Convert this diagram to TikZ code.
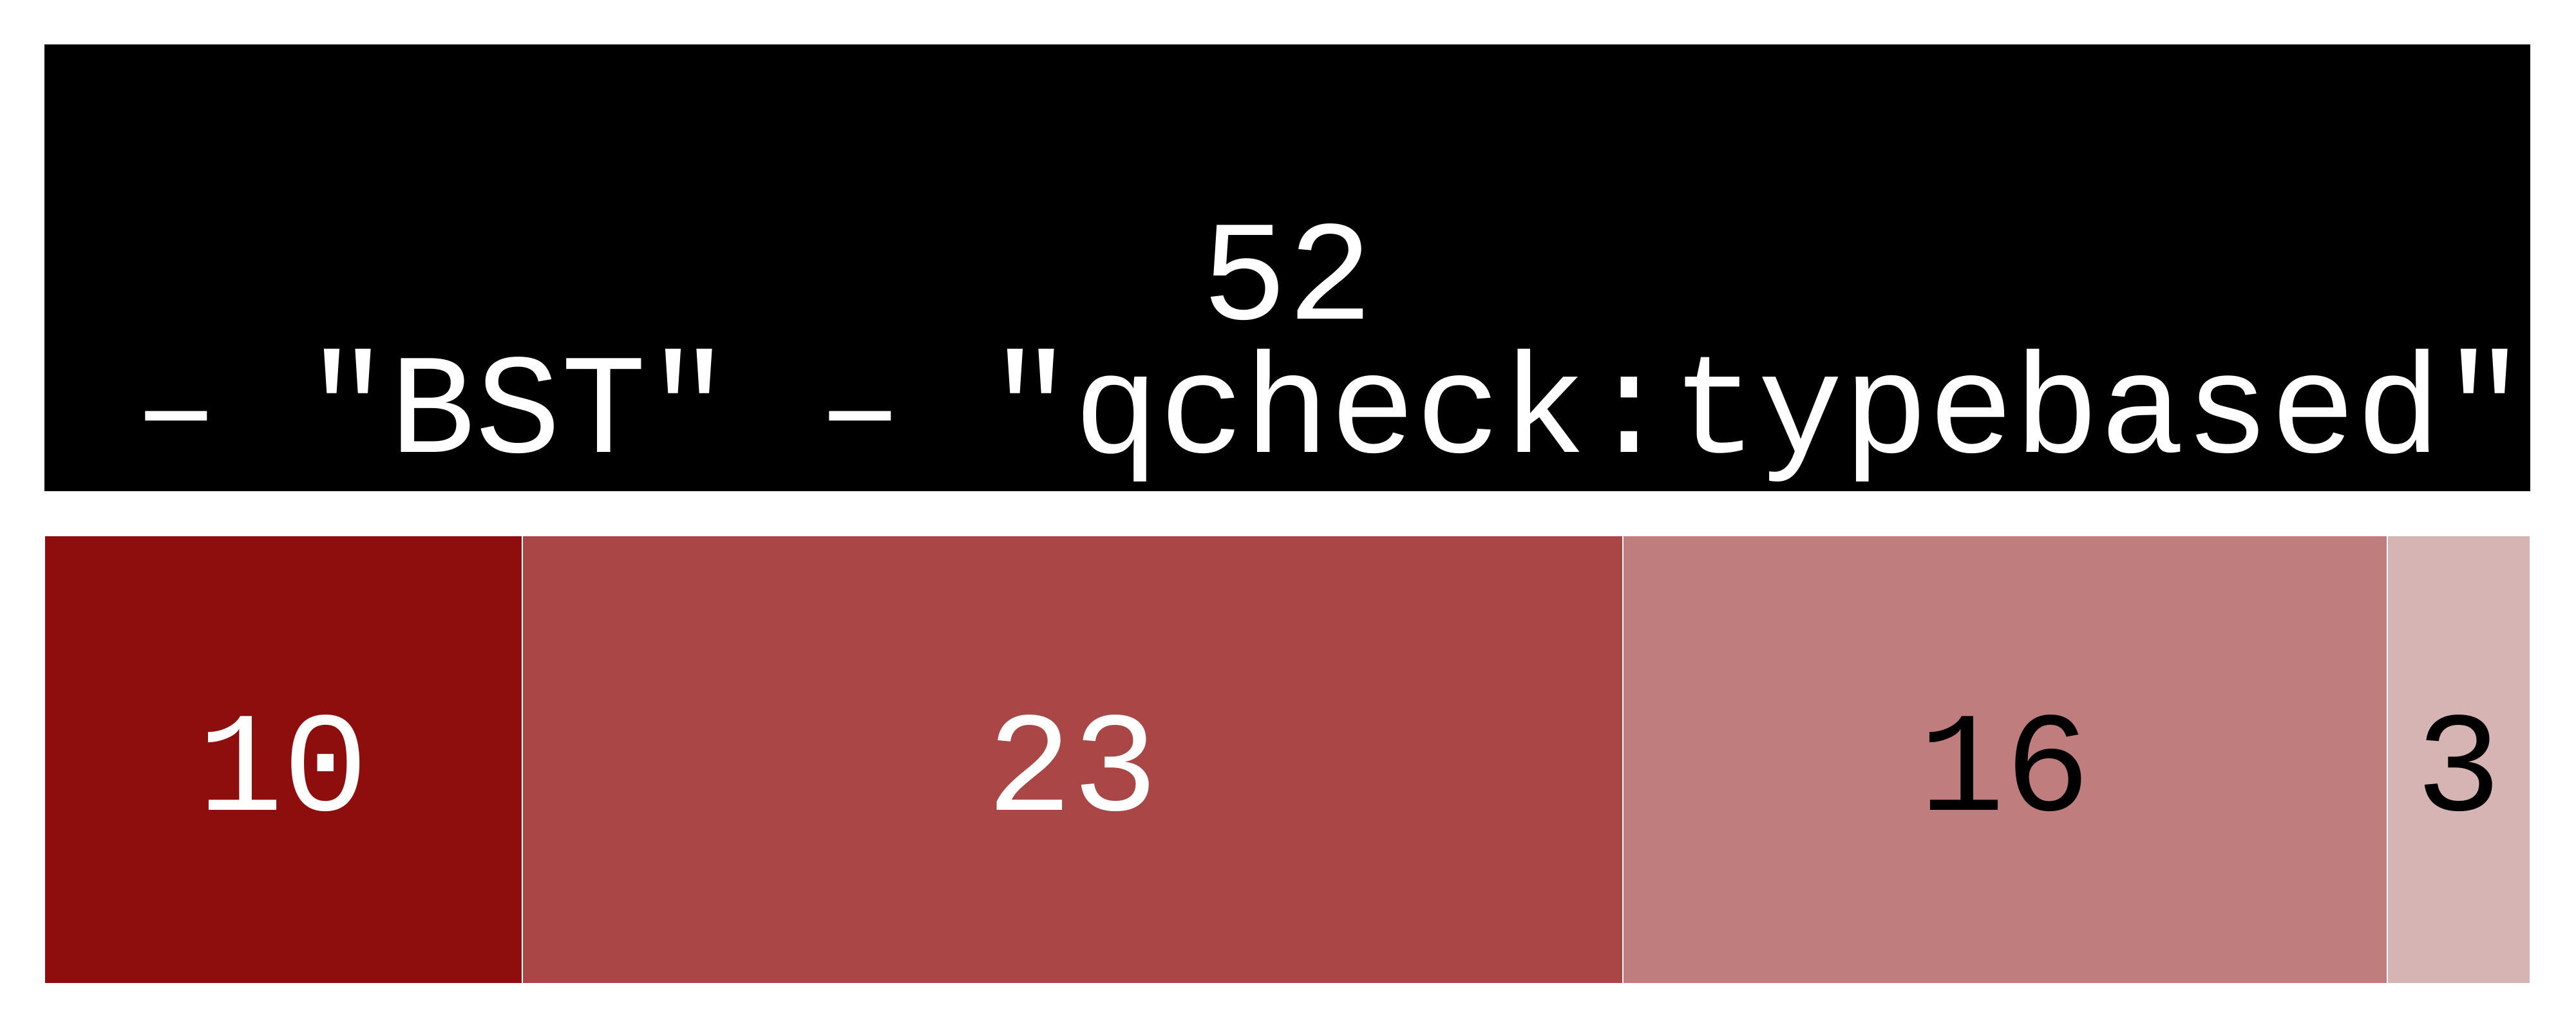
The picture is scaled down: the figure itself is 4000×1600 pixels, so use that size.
\documentclass[tikz,border=0pt]{standalone}
\usepackage{fontspec}
\usepackage{xcolor}
\setmonofont{Liberation Mono}
\definecolor{barA}{HTML}{8E0E0E}
\definecolor{barB}{HTML}{A94646}
\definecolor{barC}{HTML}{BF7D7D}
\definecolor{barD}{HTML}{D7B4B4}
\tikzset{
  lbl/.style={inner sep=0pt, anchor=base, font=\ttfamily\fontsize{62.9}{70}\selectfont},
  seg/.style={draw=white, line width=0.8pt}
}

\begin{document}
\begin{tikzpicture}[x=0.01cm,y=-0.01cm]
\useasboundingbox (0,0) rectangle (4000,1600);
\fill[black] (69,69) rectangle (3929,763);
\node[lbl,text=white] (total) at (1999,495) {52};
\node[lbl,text=white] (name) at (2066,702) {– "BST" – "qcheck:typebased"};
\foreach \a/\b/\c/\t/\n in {69/811/barA/white/10, 811/2520/barB/white/23,
	2520/3707/barC/black/16, 3707/3929/barD/black/3}{
	\fill[seg,fill=\c] (\a,832) rectangle (\b,1528);
	\node[lbl,text=\t] (val\n) at ({(\a+\b)/2},1258) {\n};
	}
\end{tikzpicture}
\end{document}
